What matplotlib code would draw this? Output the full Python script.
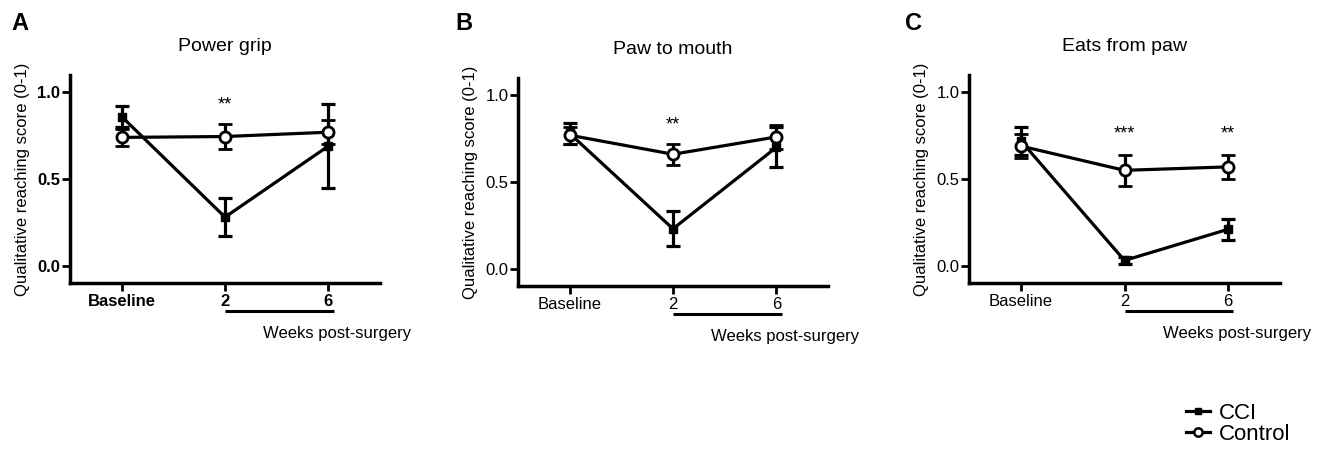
import matplotlib
matplotlib.use('Agg')
import matplotlib.pyplot as plt
from matplotlib.lines import Line2D

plt.rcParams['font.family'] = ['Liberation Sans', 'DejaVu Sans']

# data
week_labels = ['Baseline', '2', '6']
panel_letters = ['A', 'B', 'C']
panel_titles = ['Power grip', 'Paw to mouth', 'Eats from paw']

power_cci = [0.86, 0.28, 0.69]
power_cci_err = [0.06, 0.11, 0.24]
power_ctrl = [0.74, 0.745, 0.77]
power_ctrl_err = [0.05, 0.07, 0.07]

paw_cci = [0.78, 0.23, 0.70]
paw_cci_err = [0.06, 0.10, 0.115]
paw_ctrl = [0.77, 0.66, 0.76]
paw_ctrl_err = [0.05, 0.06, 0.07]

eats_cci = [0.72, 0.03, 0.21]
eats_cci_err = [0.08, 0.02, 0.06]
eats_ctrl = [0.69, 0.55, 0.57]
eats_ctrl_err = [0.07, 0.09, 0.07]

# significance marks: (x index, y, text)
power_stars = [(1, 0.88, '**')]
paw_stars = [(1, 0.78, '**')]
eats_stars = [(1, 0.71, '***'), (2, 0.71, '**')]

panels = [
    (power_cci, power_cci_err, power_ctrl, power_ctrl_err, power_stars),
    (paw_cci, paw_cci_err, paw_ctrl, paw_ctrl_err, paw_stars),
    (eats_cci, eats_cci_err, eats_ctrl, eats_ctrl_err, eats_stars),
]

W, H = 1327, 451
fig = plt.figure(figsize=(W / 100, H / 100), dpi=100)

# axes boxes in pixels: left, bottom(y from top), width, height
boxes = [(70, 283, 310, 208), (518, 286, 310, 208), (969, 283, 311, 208)]
letter_x = [20, 464, 914]

lw = 2.3
x = list(range(len(week_labels)))

for i, (cci, cci_err, ctrl, ctrl_err, stars) in enumerate(panels):
    l, b, w, h = boxes[i]
    ax = fig.add_axes([l / W, 1 - b / H, w / W, h / H])

    ax.errorbar(x, cci, yerr=cci_err, color='black', lw=lw, marker='s',
                markersize=6, elinewidth=lw, capsize=5, capthick=lw, zorder=3)
    ax.errorbar(x, ctrl, yerr=ctrl_err, color='black', lw=lw, marker='o',
                markersize=8, markerfacecolor='white', markeredgewidth=2,
                elinewidth=lw, capsize=5, capthick=lw, zorder=4)

    for xi, yi, s in stars:
        ax.text(xi, yi, s, ha='center', va='bottom', fontsize=13)

    ax.set_xlim(-0.5, 2.5)
    ax.set_ylim(-0.1, 1.1)
    ax.set_yticks([0.0, 0.5, 1.0])
    ax.set_yticklabels(['0.0', '0.5', '1.0'])
    ax.set_xticks(x)
    ax.set_xticklabels(week_labels)

    for side in ['top', 'right']:
        ax.spines[side].set_visible(False)
    for side in ['left', 'bottom']:
        ax.spines[side].set_linewidth(2.5)
    ax.tick_params(direction='out', length=6, width=2, labelsize=12)
    ax.tick_params(axis='y', pad=1)
    ax.tick_params(axis='x', pad=2)
    if i == 0:
        for lab in ax.get_xticklabels() + ax.get_yticklabels():
            lab.set_fontweight('bold')

    ax.set_ylabel('Qualitative reaching score (0-1)', fontsize=12)
    ax.yaxis.set_label_coords(-40 / w, 0.5)
    ax.set_title(panel_titles[i], fontsize=14, pad=17)

    # bar under the post-surgery weeks
    ax.plot([1.0, 2.05], [-0.135, -0.135], color='black', lw=2.2,
            transform=ax.get_xaxis_transform(), clip_on=False,
            solid_capstyle='butt')
    ax.text(1.37, -0.245, 'Weeks post-surgery', fontsize=12, ha='left',
            va='center', transform=ax.get_xaxis_transform())

    fig.text(letter_x[i] / W, 1 - 24 / H, panel_letters[i], fontsize=17,
             fontweight='bold', ha='center', va='center')

handles = [
    Line2D([], [], color='black', lw=lw, marker='s', markersize=5),
    Line2D([], [], color='black', lw=lw, marker='o', markersize=6,
           markerfacecolor='white', markeredgewidth=1.8),
]
fig.legend(handles, ['CCI', 'Control'], loc='center left',
           bbox_to_anchor=(1186 / W, 1 - 424 / H), frameon=False,
           fontsize=16, handlelength=1.1, handletextpad=0.4,
           labelspacing=0.0, borderpad=0, borderaxespad=0)

fig.savefig('out.png', dpi=100)
